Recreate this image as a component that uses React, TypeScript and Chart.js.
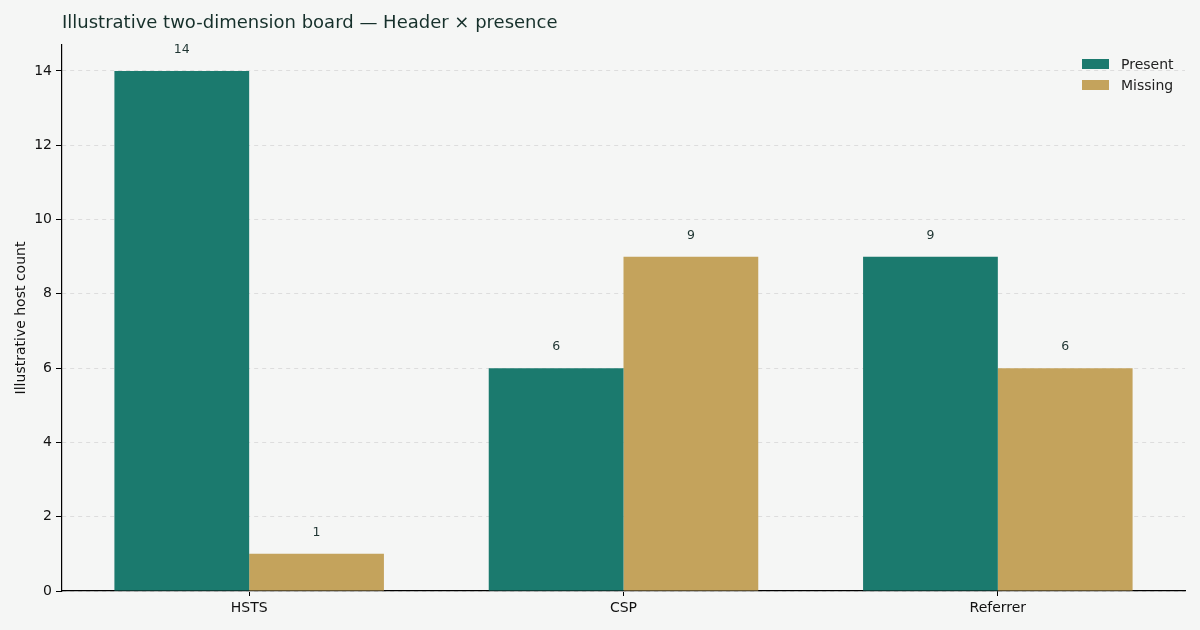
import React, { useEffect, useRef } from 'react';
import { Chart, registerables } from 'chart.js';

Chart.register(...registerables);

const categories = ['HSTS', 'CSP', 'Referrer'];
const presentValues = [14, 6, 9];
const missingValues = [1, 9, 6];
const seriesNames = ['Present', 'Missing'];
const seriesColors = ['#1b7a6e', '#c4a35c'];

const FONT = 'DejaVu Sans, sans-serif';

const titlePlugin = {
    id: 'boardTitle',
    afterDraw(chart) {
        const ctx = chart.ctx;
        ctx.save();
        ctx.font = `18px ${FONT}`;
        ctx.fillStyle = '#16302b';
        ctx.textAlign = 'left';
        ctx.textBaseline = 'middle';
        ctx.fillText('Illustrative two-dimension board — Header × presence', chart.chartArea.left, 23);
        ctx.restore();
    }
};

const valueLabels = {
    id: 'valueLabels',
    afterDatasetsDraw(chart) {
        const ctx = chart.ctx;
        ctx.save();
        ctx.font = `12.5px ${FONT}`;
        ctx.fillStyle = '#1f3532';
        ctx.textAlign = 'center';
        ctx.textBaseline = 'middle';
        chart.data.datasets.forEach((ds, i) => {
            chart.getDatasetMeta(i).data.forEach((bar, j) => {
                ctx.fillText(String(ds.data[j]), bar.x, bar.y - 21);
            });
        });
        ctx.restore();
    }
};

const sideLegend = {
    id: 'sideLegend',
    afterDraw(chart) {
        const ctx = chart.ctx;
        ctx.save();
        ctx.font = `14px ${FONT}`;
        ctx.textBaseline = 'middle';
        ctx.textAlign = 'left';
        seriesNames.forEach((name, i) => {
            const y = 64 + i * 21;
            ctx.fillStyle = seriesColors[i];
            ctx.fillRect(1082, y - 5, 27, 10);
            ctx.fillStyle = '#222222';
            ctx.fillText(name, 1121, y + 1);
        });
        ctx.restore();
    }
};

const bgPlugin = {
    id: 'bg',
    beforeDraw(chart) {
        const ctx = chart.ctx;
        ctx.save();
        ctx.fillStyle = '#f5f6f5';
        ctx.fillRect(0, 0, chart.width, chart.height);
        ctx.restore();
    }
};

const App = () => {
    const canvasRef = useRef(null);

    useEffect(() => {
        document.body.style.margin = '0';
        document.body.style.background = '#f5f6f5';

        const chart = new Chart(canvasRef.current, {
            type: 'bar',
            data: {
                labels: categories,
                datasets: [
                    { label: seriesNames[0], data: presentValues, backgroundColor: seriesColors[0] },
                    { label: seriesNames[1], data: missingValues, backgroundColor: seriesColors[1] }
                ]
            },
            options: {
                animation: false,
                responsive: false,
                maintainAspectRatio: false,
                datasets: {
                    bar: { categoryPercentage: 0.72, barPercentage: 1.0 }
                },
                layout: { padding: { left: 0, right: 15, top: 45, bottom: 0 } },
                plugins: {
                    legend: { display: false },
                    title: { display: false },
                    tooltip: { enabled: false }
                },
                scales: {
                    x: {
                        offset: true,
                        grid: {
                            offset: false,
                            drawOnChartArea: false,
                            drawTicks: true,
                            tickLength: 5,
                            tickColor: '#000000'
                        },
                        border: { display: true, color: '#000000', width: 1.2 },
                        ticks: { color: '#111111', font: { family: FONT, size: 14 }, padding: 4 },
                        afterFit(scale) {
                            scale.height = 39;
                        }
                    },
                    y: {
                        min: 0,
                        max: 14.7,
                        afterBuildTicks(scale) {
                            scale.ticks = [0, 2, 4, 6, 8, 10, 12, 14].map(v => ({ value: v }));
                        },
                        grid: {
                            color: '#dddddd',
                            tickColor: '#000000',
                            tickLength: 6,
                            tickBorderDash: [],
                            lineWidth: 1
                        },
                        border: { display: true, color: '#000000', width: 1.2, dash: [4, 4] },
                        ticks: { color: '#111111', font: { family: FONT, size: 14 }, padding: 4 },
                        title: {
                            display: true,
                            text: 'Illustrative host count',
                            color: '#111111',
                            font: { family: FONT, size: 14 },
                            padding: { top: 13, bottom: 4 }
                        },
                        afterFit(scale) {
                            scale.width = 62;
                        }
                    }
                }
            },
            plugins: [bgPlugin, titlePlugin, valueLabels, sideLegend]
        });

        return () => {
            chart.destroy();
        };
    }, []);

    return (
        <div style={{ width: 1200, height: 630 }}>
            <canvas ref={canvasRef} width={1200} height={630} style={{ width: 1200, height: 630 }} />
        </div>
    );
};

export default App;
